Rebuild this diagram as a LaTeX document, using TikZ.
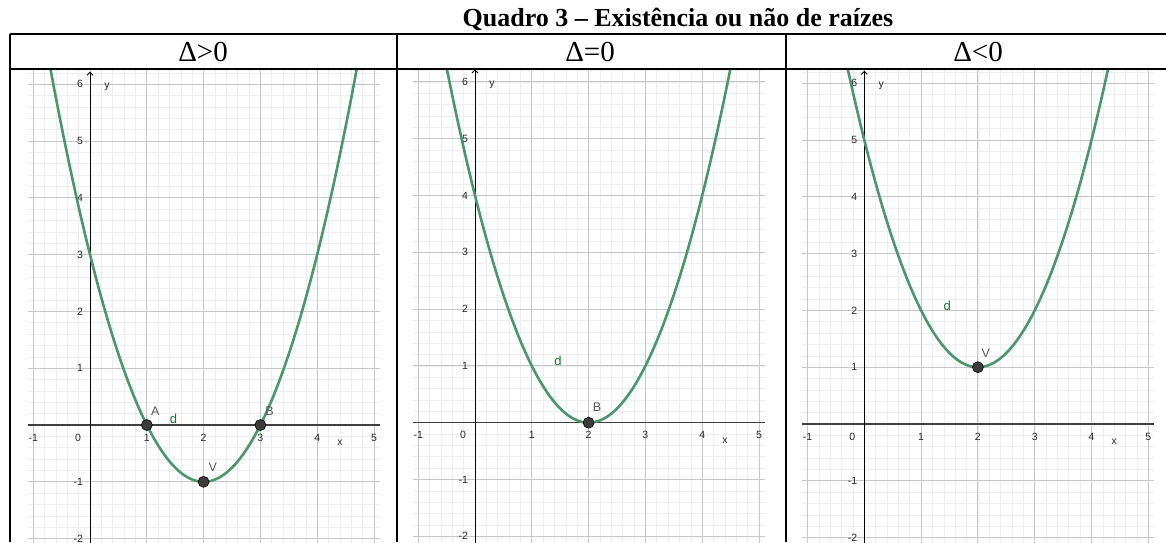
\documentclass[tikz,border=0pt]{standalone}
\usepackage{fontspec}
\setmainfont{Liberation Serif}
\newfontfamily\ggb{Liberation Sans}
\usetikzlibrary{arrows.meta}
\definecolor{curvegreen}{RGB}{76,150,108}
\definecolor{dgreen}{RGB}{20,120,40}
\definecolor{majorgrid}{RGB}{200,200,200}
\definecolor{minorgrid}{RGB}{238,238,238}
\definecolor{ticktext}{RGB}{40,40,40}
\definecolor{ptfill}{RGB}{60,60,60}
\tikzset{
 minorline/.style={minorgrid, line width=0.65pt},
 majorline/.style={majorgrid, line width=1pt},
 xaxisline/.style={draw=black!75, line width=1.3pt},
 yaxisline/.style={draw=black, line width=0.9pt, -{Straight Barb[length=3pt,width=6pt]}},
 curve/.style={curvegreen, line width=2.6pt},
 tick/.style={font=\ggb\fontsize{10.5}{11}\selectfont, text=ticktext, inner sep=0pt},
 ptlabel/.style={font=\ggb\fontsize{12.5}{13}\selectfont, text=black!65, inner sep=0pt},
 dlabel/.style={font=\ggb\fontsize{13}{14}\selectfont, text=dgreen, inner sep=0pt},
 pt/.style={circle, fill=ptfill, draw=black, line width=0.6pt, minimum size=11pt, inner sep=0pt},
 frame/.style={line width=1.8pt, black},
 head/.style={font=\fontsize{29}{32}\selectfont, anchor=base, inner sep=0pt},
 titlestyle/.style={font=\bfseries\fontsize{26}{30}\selectfont, anchor=base, inner sep=0pt},
}
\newcommand{\axesgrid}[1]{%
  \draw[minorline] (-1.1,-2.2) grid[step=0.2] (5.1,6.4);
  \draw[majorline] (-1.1,-2.2) grid[step=1] (5.1,6.4);
  \draw[xaxisline] (-1.1,0) -- (5.1,0);
  \draw[yaxisline] (0,-2.2) -- (0,6.22);
  \foreach \k [count=\n] in {-1,1,2,3,4,5}{\node[tick] (#1x\n) at (\k,-0.22) {\k};}
  \node[tick] (#1xz) at (-0.21,-0.22) {0};
  \foreach \k [count=\n] in {-2,-1,1,2,3,4,5,6}{\node[tick, anchor=east] (#1y\n) at (-0.12,\k) {\k};}
  \node[tick] (#1xl) at (4.4,-0.32) {x};
  \node[tick] (#1yl) at (0.3,5.95) {y};
}
\begin{document}
\begin{tikzpicture}[x=1pt, y=-1pt]
\useasboundingbox (0,0) rectangle (1166,542);
\fill[white] (0,0) rectangle (1166,542);
\node[titlestyle] (title) at (678,26) {Quadro 3 – Existência ou não de raízes};
% panel 1
\begin{scope}
 \clip (11,70) rectangle (396,542);
 \begin{scope}[shift={(90,425)}, x=56.8pt, y=56.8pt]
  \axesgrid{pa}
  \draw[curve] plot[domain=-0.8:4.8, samples=120] (\x,{(\x-2)^2-1});
  \node[pt] (A) at (1,0) {};
  \node[pt] (B) at (3,0) {};
  \node[pt] (V) at (2,-1) {};
  \node[ptlabel] (Alab) at (1.15,0.25) {A};
  \node[ptlabel] (Blab) at (3.16,0.25) {B};
  \node[ptlabel] (Vlab) at (2.16,-0.74) {V};
  \node[dlabel] (d1) at (1.47,0.11) {d};
 \end{scope}
\end{scope}
% panel 2
\begin{scope}
 \clip (398,70) rectangle (785,542);
 \begin{scope}[shift={(475,422.7)}, x=56.8pt, y=56.8pt]
  \axesgrid{pb}
  \draw[curve] plot[domain=-0.8:4.8, samples=120] (\x,{(\x-2)^2});
  \node[pt] (B2) at (2,0) {};
  \node[ptlabel] (B2lab) at (2.15,0.27) {B};
  \node[dlabel] (d2) at (1.46,1.09) {d};
 \end{scope}
\end{scope}
% panel 3
\begin{scope}
 \clip (787,70) rectangle (1166,542);
 \begin{scope}[shift={(864.3,424)}, x=56.8pt, y=56.8pt]
  \axesgrid{pc}
  \draw[curve] plot[domain=-0.8:4.8, samples=120] (\x,{(\x-2)^2+1});
  \node[pt] (V3) at (2,1) {};
  \node[ptlabel] (V3lab) at (2.14,1.24) {V};
  \node[dlabel] (d3) at (1.46,2.08) {d};
 \end{scope}
\end{scope}
% table frame
\draw[frame] (10,34) -- (1166,34);
\draw[frame] (10,69) -- (1166,69);
\draw[frame] (10,34) -- (10,542);
\draw[frame] (397,34) -- (397,542);
\draw[frame] (786,34) -- (786,542);
\node[head] (h1) at (203,61.5) {Δ>0};
\node[head] (h2) at (590,61.5) {Δ=0};
\node[head] (h3) at (978,61.5) {Δ<0};
\end{tikzpicture}
\end{document}
